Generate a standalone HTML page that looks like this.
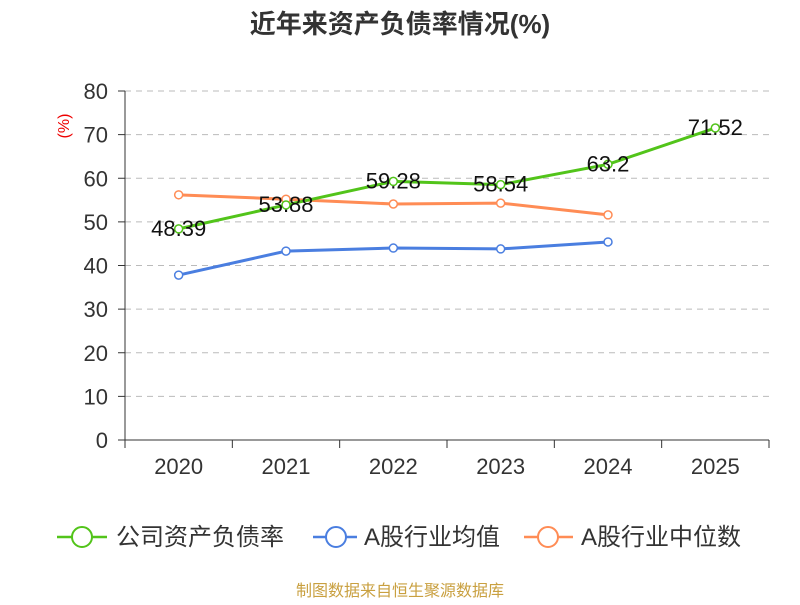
<!DOCTYPE html>
<html><head><meta charset="utf-8">
<style>
body{margin:0;background:#fff;font-family:"Liberation Sans","Noto Sans CJK SC",sans-serif;}
svg text{font-family:"Liberation Sans","Noto Sans CJK SC",sans-serif;}
</style></head>
<body>
<svg width="800" height="600" id="chart">
<text x="400" y="33" text-anchor="middle" font-size="26" font-weight="bold" fill="#333">近年来资产负债率情况(%)</text>
<text transform="translate(69,126) rotate(-90)" text-anchor="middle" font-size="16" fill="#e00">(%)</text>
<g id="grid"></g><g id="axes"></g><g id="series"></g>
<g>
 <g>
  <line x1="57" y1="537" x2="107" y2="537" stroke="#52c41a" stroke-width="2.5"/>
  <circle cx="82" cy="537" r="10" fill="#fff" stroke="#52c41a" stroke-width="2"/>
  <text x="116" y="545" font-size="24" fill="#333">公司资产负债率</text>
 </g>
 <g>
  <line x1="313" y1="537" x2="357" y2="537" stroke="#4a7ee0" stroke-width="2.5"/>
  <circle cx="336" cy="537" r="10" fill="#fff" stroke="#4a7ee0" stroke-width="2"/>
  <text x="364" y="545" font-size="24" fill="#333">A股行业均值</text>
 </g>
 <g>
  <line x1="524" y1="537" x2="573" y2="537" stroke="#ff8c55" stroke-width="2.5"/>
  <circle cx="548" cy="537" r="10" fill="#fff" stroke="#ff8c55" stroke-width="2"/>
  <text x="581" y="545" font-size="24" fill="#333">A股行业中位数</text>
 </g>
</g>
<text x="400" y="596" text-anchor="middle" font-size="16" fill="#c9a040">制图数据来自恒生聚源数据库</text>
</svg>
<script>
const categories=["2020","2021","2022","2023","2024","2025"];
const companyValues=[48.39,53.88,59.28,58.54,63.2,71.52];
const industryMean=[37.8,43.3,44.0,43.8,45.4];
const industryMedian=[56.2,55.2,54.1,54.3,51.6];
const yTicks=[0,10,20,30,40,50,60,70,80];
const NS="http://www.w3.org/2000/svg";
const L=125,R=769,T=91,B=440,yMax=80;
const bw=(R-L)/categories.length;
const xs=i=>L+bw*(i+0.5);
const ys=v=>B-(v/yMax)*(B-T);
function mk(tag,attrs,parent,txt){const e=document.createElementNS(NS,tag);for(const k in attrs)e.setAttribute(k,attrs[k]);if(txt!==undefined)e.textContent=txt;parent.appendChild(e);return e;}
const grid=document.getElementById('grid'),axes=document.getElementById('axes'),ser=document.getElementById('series');
yTicks.forEach(t=>{
 if(t>0){const g=mk('line',{x1:L,x2:R,y1:ys(t),y2:ys(t),stroke:'#bbb','stroke-dasharray':'6,5','stroke-width':1},grid);
 
 }
 mk('line',{x1:L-7,x2:L,y1:ys(t),y2:ys(t),stroke:'#333'},axes);
 const tx=mk('text',{x:L-17,y:ys(t)+8,'text-anchor':'end','font-size':22,fill:'#333'},axes,t);
 
 
});
mk('line',{x1:L,x2:L,y1:T,y2:B,stroke:'#333'},axes);
mk('line',{x1:L,x2:R,y1:B,y2:B,stroke:'#333'},axes);
for(let i=0;i<=categories.length;i++)mk('line',{x1:L+bw*i,x2:L+bw*i,y1:B,y2:B+8,stroke:'#333'},axes);
categories.forEach((c,i)=>{
 const tx=mk('text',{x:xs(i),y:B+34,'text-anchor':'middle','font-size':22,fill:'#333'},axes,c);
 
 
});
function series(vals,color,name,labels){
 const g=mk('g',{},ser);
 
 
 mk('polyline',{points:vals.map((v,i)=>xs(i)+','+ys(v)).join(' '),fill:'none',stroke:color,'stroke-width':3},g);
 vals.forEach((v,i)=>{
  const c=mk('circle',{cx:xs(i),cy:ys(v),r:4,fill:'#fff',stroke:color,'stroke-width':1.5},g);
  
  
  if(labels){const t=mk('text',{x:xs(i),y:ys(v)+7,'text-anchor':'middle','font-size':22,fill:'#111'},g,v);
  
  }
 });
}
series(industryMedian,'#ff8c55','industry-median-line',false);
series(industryMean,'#4a7ee0','industry-mean-line',false);
series(companyValues,'#52c41a','company-line',true);
</script>
</body></html>
